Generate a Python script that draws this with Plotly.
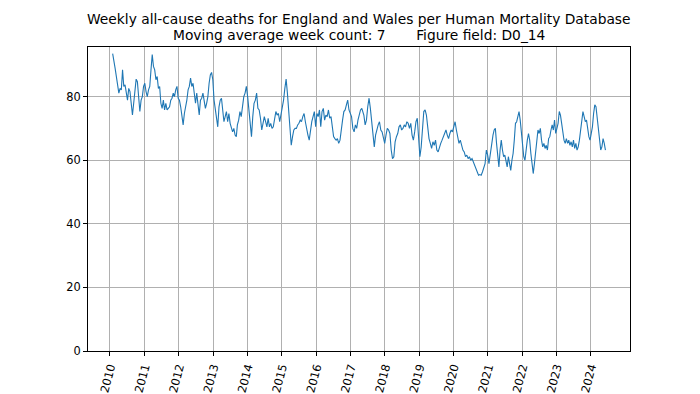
import numpy as np
import plotly.graph_objects as go

# Segment time spans (decimal years) and weekly-moving-average values
seg1_span = [2010.078, 2013.678]
seg1_vals = [93.5, 91.6, 88.9, 86.3, 83.2, 81.1, 82.6, 82.1, 88.4, 83.2, 83.7, 81.6, 78.9, 82.6, 81.6, 77.9,
             74.2, 77.9, 82.1, 85.5, 84.7, 80.0, 75.3, 78.9, 80.0, 83.2, 84.2, 81.6, 80.0, 82.1, 83.2, 88.4,
             93.2, 89.5, 88.4, 85.3, 86.3, 82.6, 83.2, 77.9, 76.3, 78.9, 75.8, 77.9, 75.8, 76.3, 76.8, 78.9,
             79.5, 81.1, 80.0, 82.1, 83.2, 79.5, 78.9, 76.8, 73.7, 71.1, 74.7, 76.3, 78.9, 82.1, 83.2, 85.8,
             83.2, 84.2, 80.0, 77.9, 81.1, 76.8, 74.2, 78.9, 79.5, 81.1, 77.9, 76.3, 77.9, 80.0, 84.2, 86.8,
             87.6, 85.3, 78.9, 75.8, 72.1, 70.5, 76.8, 78.9, 79.5, 75.8, 72.1, 73.7, 75.3, 72.1, 74.7, 71.6,
             70.5, 68.9, 70.0, 67.9, 67.4]

seg2_span = [2013.709, 2017.369]
seg2_vals = [71.1, 72.6, 75.3, 73.7, 76.8, 80.0, 81.1, 83.2, 80.0, 75.3, 70.5, 67.4, 73.7, 77.9, 78.9, 81.1,
             76.3, 75.8, 73.2, 69.5, 71.6, 73.7, 72.1, 70.5, 73.2, 70.5, 71.6, 70.0, 70.5, 72.6, 75.3, 74.2,
             74.7, 72.1, 74.7, 75.8, 78.9, 82.6, 85.5, 81.1, 75.8, 70.5, 64.7, 67.4, 69.5, 70.0, 70.0, 71.1,
             71.6, 72.6, 72.1, 73.7, 74.7, 72.1, 69.5, 67.9, 66.3, 69.5, 72.1, 73.7, 75.3, 70.5, 74.7, 73.7,
             75.8, 70.5, 75.3, 76.3, 72.6, 74.2, 73.7, 75.8, 73.2, 73.7, 71.1, 67.4, 66.8, 66.3, 66.8, 65.3,
             66.3, 70.5, 72.6, 75.3, 75.8, 77.4, 78.9, 75.8, 74.7, 73.7, 70.0, 68.9, 71.1, 70.0, 72.6, 74.2,
             75.8, 76.3, 74.7]

seg3_span = [2017.391, 2021.034]
seg3_vals = [74.2, 71.1, 72.6, 76.8, 79.5, 76.3, 72.1, 68.9, 64.2, 67.9, 70.0, 71.1, 72.1, 69.5, 68.9, 67.4,
             65.3, 67.9, 70.0, 69.5, 68.4, 63.2, 60.5, 61.1, 65.8, 67.4, 68.4, 70.5, 71.1, 69.5, 70.0, 71.1,
             70.5, 72.1, 71.6, 70.0, 71.6, 67.9, 66.3, 68.9, 72.1, 73.2, 67.4, 61.1, 64.2, 70.5, 75.3, 75.8,
             74.2, 70.5, 66.8, 65.3, 63.7, 65.8, 64.7, 66.3, 63.2, 62.6, 64.2, 65.3, 66.3, 67.4, 68.4, 69.5,
             67.9, 66.8, 68.4, 69.5, 68.9, 71.1, 72.1, 69.5, 66.8, 65.3, 66.3, 64.2, 63.2, 62.6, 61.1, 61.6,
             60.5, 61.1, 60.0, 60.5, 59.5, 58.4, 57.4, 56.0, 55.3, 55.5, 55.3, 56.3, 57.4, 58.9, 63.2, 61.6,
             58.9]

seg4_span = [2021.082, 2024.425]
seg4_vals = [63.2, 66.3, 67.9, 69.5, 70.0, 65.3, 61.1, 57.9, 63.2, 66.3, 63.2, 61.1, 61.6, 60.0, 57.9, 61.1,
             58.9, 56.8, 60.0, 62.1, 66.3, 71.6, 72.1, 74.2, 75.3, 72.6, 68.4, 64.2, 61.1, 60.0, 64.2, 66.3,
             68.4, 66.3, 62.1, 58.9, 55.8, 58.9, 63.2, 67.4, 69.5, 68.4, 70.0, 66.3, 64.2, 65.3, 63.7, 64.7,
             63.2, 66.8, 67.4, 69.5, 71.1, 69.5, 72.6, 68.4, 70.5, 71.6, 75.3, 74.2, 71.6, 68.4, 66.3, 65.3,
             66.8, 65.3, 66.3, 64.7, 65.8, 64.2, 66.3, 63.7, 65.3, 63.2, 64.2, 66.3, 69.5, 72.6, 75.3, 73.7,
             72.1, 72.6, 69.5, 67.4, 66.3, 67.9, 70.5, 74.7, 77.4, 76.8, 73.7, 69.5, 66.3, 63.2, 64.2, 66.8,
             65.3, 63.2]

years = list(range(2010, 2025))
y_ticks = [0, 20, 40, 60, 80]

title_line1 = "Weekly all-cause deaths for England and Wales per Human Mortality Database"
title_line2 = "Moving average week count: 7" + "\u00a0" * 7 + "Figure field: D0_14"

segments = [(seg1_span, seg1_vals), (seg2_span, seg2_vals), (seg3_span, seg3_vals), (seg4_span, seg4_vals)]
xs, ys = [], []
for span, vals in segments:
    xs.extend(np.linspace(span[0], span[1], len(vals)).tolist())
    ys.extend(vals)

FONT = "DejaVu Sans"
fig = go.Figure()
fig.add_trace(go.Scatter(x=xs, y=ys, mode="lines", line=dict(color="#1f77b4", width=1.1),
                         hoverinfo="skip", showlegend=False))

axis_common = dict(showgrid=True, gridcolor="#b0b0b0", gridwidth=0.8, showline=True, mirror=True,
                   linecolor="black", linewidth=1, ticks="outside", ticklen=4, tickcolor="black",
                   tickwidth=1, zeroline=False, automargin=False,
                   tickfont=dict(family=FONT, size=11.4, color="black"))

# page body has an 8px default margin, so the figure is sized 692x386 to fit the 700x394 window
fig.update_layout(
    width=692, height=386, autosize=False,
    margin=dict(l=80, r=70, t=39, b=43, pad=0),
    paper_bgcolor="white", plot_bgcolor="white",
    xaxis=dict(range=[2009.36, 2025.14], tickmode="array", tickvals=years,
               ticktext=[str(y) for y in years], tickangle=-75, **axis_common),
    yaxis=dict(range=[0, 95.6], tickmode="array", tickvals=y_ticks,
               ticktext=[str(v) for v in y_ticks], **axis_common),
    annotations=[
        dict(text=title_line1, x=0.5, y=1.0916, xref="paper", yref="paper", xanchor="center",
             yanchor="middle", showarrow=False, font=dict(family=FONT, size=13.8, color="black")),
        dict(text=title_line2, x=0.5, y=1.0389, xref="paper", yref="paper", xanchor="center",
             yanchor="middle", showarrow=False, font=dict(family=FONT, size=13.8, color="black")),
    ],
)

fig.write_html("out.html")
